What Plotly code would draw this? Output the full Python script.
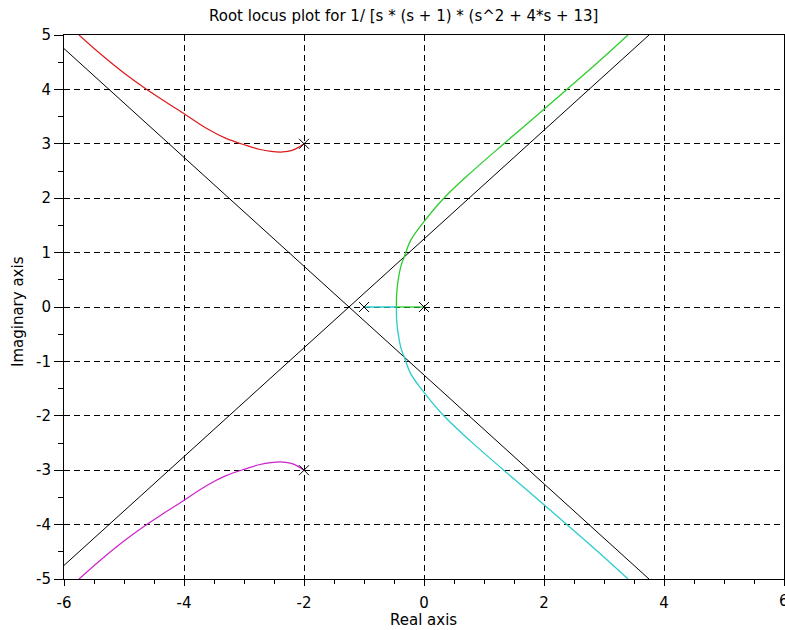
import plotly.graph_objects as go

# ---- data ----
title_text = "Root locus plot for 1/ [s * (s + 1) * (s^2 + 4*s + 13]"

pole_re = [0.0, -1.0, -2.0, -2.0]
pole_im = [0.0, 0.0, 3.0, -3.0]

# asymptotes (end points)
asym1_x = [-6.0, 3.75]
asym1_y = [4.75, -5.0]
asym2_x = [-6.0, 3.75]
asym2_y = [-4.75, 5.0]

# red branch (from pole -2+3j)
red_x = [-2.0, -2.1, -2.2, -2.35, -2.55, -2.75, -2.96, -3.3, -3.62, -4.01, -4.35, -4.65, -5.0, -5.38, -5.75]
red_y = [3.0, 2.93, 2.88, 2.85, 2.86, 2.9, 2.97, 3.1, 3.28, 3.56, 3.8, 4.02, 4.3, 4.64, 5.0]

# magenta branch (from pole -2-3j)
mag_x = [-2.0, -2.1, -2.2, -2.35, -2.55, -2.75, -2.96, -3.3, -3.62, -4.01, -4.35, -4.65, -5.0, -5.38, -5.75]
mag_y = [-3.0, -2.93, -2.88, -2.85, -2.86, -2.9, -2.97, -3.1, -3.28, -3.56, -3.8, -4.02, -4.3, -4.64, -5.0]

# real-axis segments (pole -> breakaway)
green_seg_x = [0.0, -0.46]
green_seg_y = [0.0, 0.0]
cyan_seg_x = [-1.0, -0.46]
cyan_seg_y = [0.0, 0.0]

# green branch (breakaway -> up)
green_x = [-0.46, -0.455, -0.43, -0.385, -0.33, -0.22, 0.0, 0.33, 0.78, 1.33, 1.86, 2.38, 2.9, 3.4]
green_y = [0.0, 0.25, 0.5, 0.75, 0.92, 1.23, 1.57, 2.0, 2.47, 3.0, 3.5, 4.0, 4.5, 5.0]

# cyan branch (breakaway -> down)
cyan_x = [-0.46, -0.455, -0.43, -0.385, -0.33, -0.22, 0.0, 0.33, 0.78, 1.33, 1.86, 2.38, 2.9, 3.4]
cyan_y = [0.0, -0.25, -0.5, -0.75, -0.92, -1.23, -1.57, -2.0, -2.47, -3.0, -3.5, -4.0, -4.5, -5.0]

x_ticks = [-6, -4, -2, 0, 2, 4, 6]
x_labels = ["-6", "-4", "-2", "0", "2", "4", "6"]
y_ticks = [-5, -4, -3, -2, -1, 0, 1, 2, 3, 4, 5]
y_labels = ["-5", "-4", "-3", "-2", "-1", "0", "1", "2", "3", "4", "5"]

FONT = "DejaVu Sans"
FS = 15

fig = go.Figure()

def line(x, y, color, w=1.2, spline=True):
    ln = dict(color=color, width=w)
    if spline:
        ln.update(shape="spline", smoothing=1.0)
    fig.add_trace(go.Scatter(x=x, y=y, mode="lines", line=ln, showlegend=False, hoverinfo="skip"))

RED, MAG, CYAN, GREEN = "#dd1a1a", "#cc22cc", "#2ccccc", "#2ccc2c"

line(asym1_x, asym1_y, "black", 1, False)
line(asym2_x, asym2_y, "black", 1, False)
line(red_x, red_y, RED)
line(mag_x, mag_y, MAG)
line(cyan_seg_x, cyan_seg_y, CYAN, 1.3, False)
line(cyan_x, cyan_y, CYAN, 1.3)
line(green_seg_x, green_seg_y, GREEN, 1.3, False)
line(green_x, green_y, GREEN, 1.3)

fig.add_trace(go.Scatter(x=pole_re, y=pole_im, mode="markers",
                         marker=dict(symbol="x-thin-open", size=10, color="black",
                                     line=dict(color="black", width=1)),
                         showlegend=False, hoverinfo="skip"))

axis_common = dict(
    showline=True, linecolor="black", linewidth=1, mirror=True,
    showgrid=True, gridcolor="black", gridwidth=1, griddash="6px,4px",
    zeroline=False, ticks="outside", tickcolor="black", tickwidth=1,
    tickfont=dict(family=FONT, size=FS, color="black"), automargin=False,
)

fig.update_xaxes(range=[-6, 6], tickvals=x_ticks, ticktext=x_labels, ticklen=6,
                 ticklabelstandoff=4,
                 minor=dict(dtick=0.5, tick0=-6, ticks="outside", ticklen=4, tickcolor="black", showgrid=False),
                 **axis_common)
fig.update_yaxes(range=[-5, 5], tickvals=y_ticks, ticktext=y_labels, ticklen=9,
                 minor=dict(dtick=0.5, tick0=-5, ticks="outside", ticklen=5, tickcolor="black", showgrid=False),
                 **axis_common)

annotations = [
    dict(text=title_text, xref="paper", yref="paper", x=(403 - 64) / 720, y=(579 - 16) / 544,
         xanchor="center", yanchor="middle", showarrow=False, font=dict(family=FONT, size=FS)),
    dict(text="Real axis", xref="paper", yref="paper", x=(423 - 64) / 720, y=-(620 - 579) / 544,
         xanchor="center", yanchor="middle", showarrow=False, font=dict(family=FONT, size=FS)),
    dict(text="Imaginary axis", xref="paper", yref="paper", x=(18 - 64) / 720, y=(579 - 312) / 544,
         xanchor="center", yanchor="middle", textangle=-90, showarrow=False, font=dict(family=FONT, size=FS)),
    # last x tick label, which Plotly drops because it overflows the page edge
    dict(text=x_labels[-1], xref="x", yref="paper", x=x_ticks[-1], y=-(601 - 579) / 544,
         xanchor="center", yanchor="middle", showarrow=False, font=dict(family=FONT, size=FS)),
]

fig.update_layout(
    width=785, height=630,
    margin=dict(l=64, r=1, t=35, b=51),
    paper_bgcolor="white", plot_bgcolor="white",
    font=dict(family=FONT, color="black"),
    annotations=annotations,
)

fig.write_html("out.html", config={"displayModeBar": False},
               post_script="document.body.style.margin='0';document.body.style.overflow='hidden';")
